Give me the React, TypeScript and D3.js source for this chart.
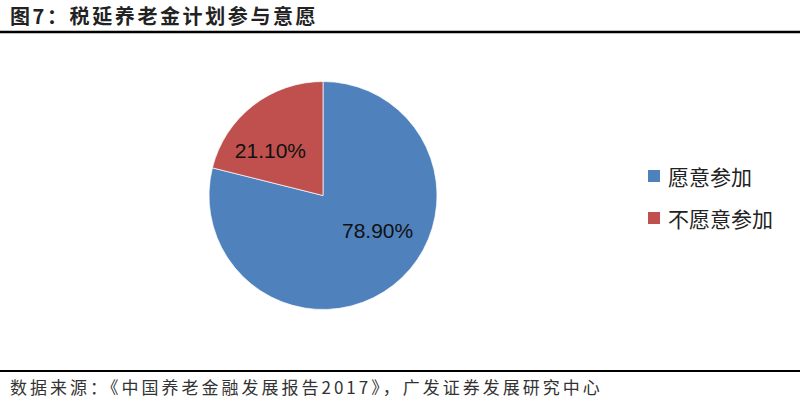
import * as d3 from 'd3'

const categories = ['愿意参加', '不愿意参加']
const values = [78.9, 21.1]
const labels = ['78.90%', '21.10%']
const colors = ['#4F81BD', '#C0504D']

const title = '图7：税延养老金计划参与意愿'
const source = '数据来源：《中国养老金融发展报告2017》，广发证券发展研究中心'

export default function App() {
  const width = 800
  const height = 403
  const cx = 323
  const cy = 195.5
  const r = 114

  const pie = d3.pie<number>().sort(null).value(d => d)
  const arcs = pie(values)
  const arc = d3.arc<d3.PieArcDatum<number>>().innerRadius(0).outerRadius(r)
  const labelArc = d3.arc<d3.PieArcDatum<number>>().innerRadius(r * 0.55).outerRadius(r * 0.55)
  // label nudges to match the excel-style placement
  const labelShift = [[16, -14], [-14, 4]]

  const cjk = '"Noto Sans CJK SC", "Noto Sans", sans-serif'

  return (
    <svg width={width} height={height} style={{ position: 'absolute', left: 0, top: 0, background: '#fff' }}>
      <text x={10} y={24} fontFamily={cjk} fontWeight="bold" fontSize={20} letterSpacing={2.6} fill="#222">{title}</text>
      <line x1={0} x2={width} y1={32} y2={32} stroke="#000" strokeWidth={2.5} />

      <g transform={`translate(${cx},${cy})`}>
        {arcs.map((a, i) => (
          <path key={i} d={arc(a) || ''} fill={colors[i]} stroke="#fff" strokeWidth={0.7} />
        ))}
        {arcs.map((a, i) => {
          const [x, y] = labelArc.centroid(a)
          return (
            <text key={i} x={x + labelShift[i][0]} y={y + labelShift[i][1]} textAnchor="middle" dominantBaseline="central"
              fontFamily="Arial, 'Liberation Sans', sans-serif" fontSize={21} fill="#111">
              {labels[i]}
            </text>
          )
        })}
      </g>

      {categories.map((c, i) => (
        <g key={c} transform={`translate(648,${176 + i * 42})`}>
          <rect x={0} y={-6} width={12} height={12} fill={colors[i]} />
          <text x={20} y={0} dominantBaseline="central" fontFamily={cjk} fontSize={21} fill="#222">{c}</text>
        </g>
      ))}

      <line x1={0} x2={width} y1={371} y2={371} stroke="#000" strokeWidth={2} />
      <text x={10} y={394} fontFamily={cjk} fontSize={17} letterSpacing={3} fill="#333">{source}</text>
    </svg>
  )
}
